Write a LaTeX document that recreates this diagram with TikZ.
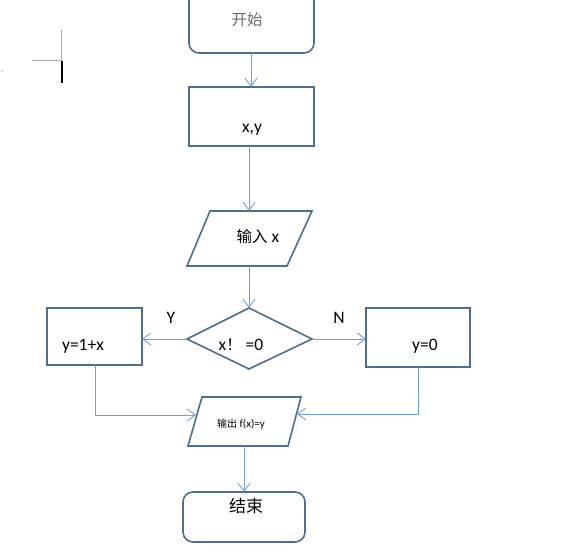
\documentclass[tikz,border=0pt]{standalone}
\usepackage{fontspec}
\setmainfont{Carlito}
\newfontfamily\cjk{Noto Sans CJK SC}
\usetikzlibrary{arrows.meta,shapes.geometric}
\definecolor{boxc}{HTML}{4F6D8F}
\definecolor{arrc}{HTML}{6F9FD8}
\tikzset{
  boxline/.style={draw=boxc, line width=1.6pt},
  conn/.style={draw=arrc, line width=0.9pt, -{Straight Barb[length=8pt,width=12pt,line width=0.9pt]}},
  lbl/.style={font=\fontsize{17.5}{20}\selectfont, inner sep=0pt},
  cjklbl/.style={font=\fontsize{15.5}{18}\selectfont\cjk, inner sep=0pt},
}
\begin{document}
\begin{tikzpicture}[x=1pt,y=-1pt]
\useasboundingbox (0,0) rectangle (582,553);
% cursor marks
\draw[gray!70, line width=0.8pt] (61,30) -- (61,60) -- (32,60);
\draw[black, line width=2pt] (62,61) -- (62,83);
\fill[gray!60] (2,71) circle (0.8);
% start
\draw[boxline, rounded corners=10pt] (189,-12) rectangle (314,53);
\coordinate (st) at (251,53);
\node[cjklbl, text=gray!85!black] at (247,20) {开始};
% x,y box
\draw[boxline] (189,87) rectangle (314,146);
\coordinate (xyT) at (251,87);
\coordinate (xyB) at (249,146);
\node[lbl] at (252,130) {x,y};
% input
\draw[boxline] (210,211) -- (312,211) -- (287,266) -- (187,266) -- cycle;
\coordinate (inT) at (249,211);
\coordinate (inB) at (249,266);
\node[lbl] at (258,237) {{\fontsize{15.5}{18}\selectfont\cjk 输入} x};
% diamond
\draw[boxline] (187,339) -- (249,308) -- (312,339) -- (249,369) -- cycle;
\coordinate (dT) at (249,308);
\coordinate (dL) at (187,339);
\coordinate (dR) at (312,339);
\node[lbl] at (241,345) {x{\fontsize{15.5}{18}\selectfont\cjk ！} =0};
% left box
\draw[boxline] (47,308) rectangle (142,365);
\coordinate (lR) at (142,339);
\coordinate (lB) at (95,365);
\node[lbl] at (83,346) {y=1+x};
% right box
\draw[boxline] (366,308) rectangle (470,367);
\coordinate (rL) at (366,339);
\coordinate (rB) at (418,367);
\node[lbl] at (425,346) {y=0};
% labels
\node[lbl] at (171,318) {Y};
\node[lbl] at (339,318) {N};
% output
\draw[boxline] (202,397) -- (301,397) -- (288,446) -- (188,446) -- cycle;
\coordinate (oL) at (196,415);
\coordinate (oR) at (297,414);
\coordinate (oB) at (244,446);
\node[inner sep=0pt, font=\fontsize{11}{13}\selectfont] at (241,424) {{\fontsize{10}{12}\selectfont\cjk 输出} f(x)=y};
% end
\draw[boxline, rounded corners=10pt] (183,492) rectangle (305,542);
\coordinate (enT) at (244,492);
\node[cjklbl, font=\fontsize{17}{20}\selectfont\cjk] at (246,506) {结束};
% connectors
\draw[conn] (st) -- (xyT);
\draw[conn] (xyB) -- (inT);
\draw[conn] (inB) -- (dT);
\draw[conn] (dL) -- (lR);
\draw[conn] (dR) -- (rL);
\draw[conn] (lB) |- (oL);
\draw[conn] (rB) |- (oR);
\draw[conn] (oB) -- (enT);
\end{tikzpicture}
\end{document}
